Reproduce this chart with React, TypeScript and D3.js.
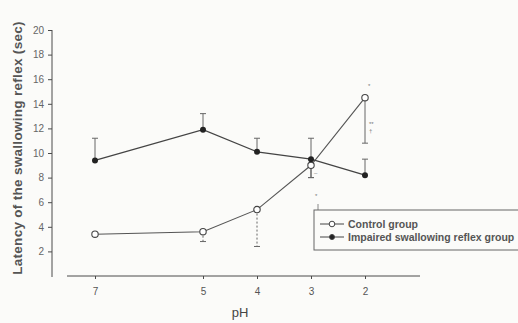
import React, { useRef, useEffect } from "react";
import * as d3 from "d3";

const phValues = [7, 5, 4, 3, 2];
const controlMeans = [3.4, 3.6, 5.4, 9.0, 14.5];
const controlLow = [null, 2.8, 2.4, 8.0, 10.8];
const impairedMeans = [9.4, 11.9, 10.1, 9.5, 8.2];
const impairedHigh = [11.2, 13.2, 11.2, 11.2, 9.5];
const impairedLow = [null, null, null, 8.0, null];
const yTicks = [2, 4, 6, 8, 10, 12, 14, 16, 18, 20];
const xTicks = [7, 5, 4, 3, 2];

const App = () => {
  const svgRef = useRef<SVGSVGElement>(null);
  const width = 518,
    height = 323;
  const ink = "#4a4a4a";
  const font = "Arial, 'Liberation Sans', sans-serif";

  useEffect(() => {
    const svg = d3.select(svgRef.current);
    svg.selectAll("*").remove();

    const x = d3.scaleLinear().domain([7, 2]).range([95, 365]);
    const y = d3.scaleLinear().domain([0, 20]).range([276, 30]);

    svg.append("rect").attr("width", width).attr("height", height).attr("fill", "#fbfbf9");

    // Y axis
    const yAxis = svg
      .append("g")
      .attr("transform", "translate(52,0)")
      .call(d3.axisLeft(y).tickValues(yTicks).tickSize(4).tickSizeOuter(0));
    yAxis.select(".domain").attr("stroke", ink).attr("d", `M0,${y(20)}V${y(0) + 1}`);
    yAxis.selectAll("line").attr("stroke", ink);
    yAxis
      .selectAll("text")
      .attr("fill", "#666")
      .attr("font-family", font)
      .attr("font-size", 10)
      .attr("x", -8);
    // Y label
    svg
      .append("text")
      .attr("transform", "rotate(-90)")
      .attr("x", -148)
      .attr("y", 22)
      .attr("text-anchor", "middle")
      .attr("fill", "#555")
      .attr("font-family", font)
      .attr("font-weight", 600)
      .attr("font-size", 13.5)
      .attr("letter-spacing", 0.3)
      .text("Latency of the swallowing reflex (sec)");

    // X axis
    const xAxis = svg
      .append("g")
      .attr("transform", "translate(0,276)")
      .call(d3.axisBottom(x).tickValues(xTicks).tickFormat(d3.format("d")).tickSize(3).tickSizeOuter(0));
    xAxis.select(".domain").attr("stroke", ink).attr("d", "M67,0H420");
    xAxis.selectAll("line").attr("stroke", ink);
    xAxis
      .selectAll("text")
      .attr("fill", "#555")
      .attr("font-family", font)
      .attr("font-size", 10)
      .attr("y", 12);
    // X label
    svg
      .append("text")
      .attr("x", 240)
      .attr("y", 317)
      .attr("text-anchor", "middle")
      .attr("fill", "#444")
      .attr("font-family", font)
      .attr("font-size", 13)
      .text("pH");

    // Error bars
    const drawBar = (px: number, from: number, to: number, dashed = false) => {
      svg
        .append("line")
        .attr("x1", x(px))
        .attr("x2", x(px))
        .attr("y1", y(from))
        .attr("y2", y(to))
        .attr("stroke", "#666")
        .attr("stroke-width", 1)
        .attr("stroke-dasharray", dashed ? "2,2" : null);
      svg
        .append("line")
        .attr("x1", x(px) - 3)
        .attr("x2", x(px) + 3)
        .attr("y1", y(to))
        .attr("y2", y(to))
        .attr("stroke", "#666")
        .attr("stroke-width", 1);
    };
    phValues.forEach((p, i) => {
      drawBar(p, impairedMeans[i], impairedHigh[i]);
      if (impairedLow[i] != null) drawBar(p, impairedMeans[i], impairedLow[i] as number);
      if (controlLow[i] != null) drawBar(p, controlMeans[i], controlLow[i] as number, i === 1 || i === 2);
    });

    // Lines
    const line = d3
      .line<number>()
      .x((d, i) => x(phValues[i]))
      .y((d) => y(d));
    svg.append("path").attr("d", line(controlMeans)).attr("fill", "none").attr("stroke", "#555").attr("stroke-width", 1.1);
    svg.append("path").attr("d", line(impairedMeans)).attr("fill", "none").attr("stroke", "#444").attr("stroke-width", 1.3);

    // Markers
    svg
      .selectAll(".ctrl")
      .data(controlMeans)
      .enter()
      .append("circle")
      .attr("cx", (d, i) => x(phValues[i]))
      .attr("cy", (d) => y(d))
      .attr("r", 3.2)
      .attr("fill", "#fff")
      .attr("stroke", "#444")
      .attr("stroke-width", 1.1);
    svg
      .selectAll(".imp")
      .data(impairedMeans)
      .enter()
      .append("circle")
      .attr("cx", (d, i) => x(phValues[i]))
      .attr("cy", (d) => y(d))
      .attr("r", 3)
      .attr("fill", "#222");

    // Significance marks
    const mark = (tx: number, ty: number, s: string) =>
      svg
        .append("text")
        .attr("x", tx)
        .attr("y", ty)
        .attr("fill", "#777")
        .attr("font-family", font)
        .attr("font-size", 6)
        .text(s);
    mark(x(2) + 3, y(15.3), "*");
    mark(x(2) + 4, y(12.2), "**");
    mark(x(2) + 4, y(11.6), "†");
    mark(x(3) + 3, y(8.2), "–");
    mark(x(3) + 4, 198, "*");
    svg.append("line").attr("x1", x(3) + 7).attr("x2", x(3) + 7).attr("y1", 204).attr("y2", 210).attr("stroke", "#888");

    // Legend
    const lg = svg.append("g").attr("transform", "translate(314,210)");
    lg.append("rect")
      .attr("width", 230)
      .attr("height", 40)
      .attr("fill", "#fbfbf9")
      .attr("stroke", "#666")
      .attr("stroke-width", 1);
    const entries = [
      { label: "Control group", filled: false },
      { label: "Impaired swallowing reflex group", filled: true },
    ];
    entries.forEach((e, i) => {
      const ly = 14 + i * 13;
      lg.append("line").attr("x1", 6).attr("x2", 30).attr("y1", ly).attr("y2", ly).attr("stroke", "#444");
      lg.append("circle")
        .attr("cx", 18)
        .attr("cy", ly)
        .attr("r", e.filled ? 2.5 : 2.8)
        .attr("fill", e.filled ? "#222" : "#fff")
        .attr("stroke", "#444");
      lg.append("text")
        .attr("x", 34)
        .attr("y", ly + 4)
        .attr("fill", "#555")
        .attr("font-family", font)
        .attr("font-weight", 600)
        .attr("font-size", 10.5)
        .text(e.label);
    });
  }, []);

  return (
    <svg
      ref={svgRef}
      width={width}
      height={height}
      style={{ display: "block", position: "absolute", left: 0, top: 0 }}
    />
  );
};

export default App;
